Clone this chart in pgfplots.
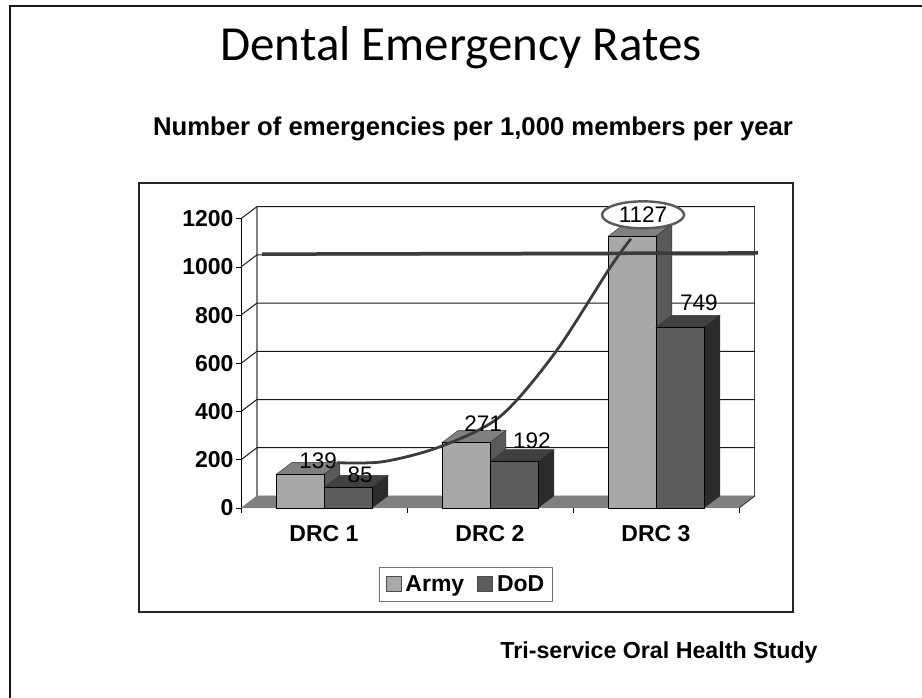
\documentclass[border=0pt]{standalone}
\usepackage{pgfplots}
\pgfplotsset{compat=1.18}
\usepackage{fontspec}
\setmainfont{Liberation Sans}
\newfontfamily\titlefont{Carlito}
\definecolor{armyfront}{gray}{0.66}
\definecolor{armytop}{gray}{0.5}
\definecolor{armyside}{gray}{0.35}
\definecolor{dodfront}{gray}{0.36}
\definecolor{dodtop}{gray}{0.25}
\definecolor{dodside}{gray}{0.17}
\definecolor{marker}{gray}{0.23}
\begin{document}
\begin{tikzpicture}[x=1pt,y=1pt]
\useasboundingbox (0,0) rectangle (922,698);
% slide edge (left and top only) and chart frame
\draw[line width=1.8pt, black!90] (10,0) -- (10,692) -- (922,692);
\draw[line width=1.5pt, black!85] (139,86) rectangle (793,515);
\node[font=\titlefont\fontsize{49}{56}\selectfont] at (461,650) {Dental Emergency Rates};
\node[font=\bfseries\fontsize{25.7}{30}\selectfont] at (473,569) {Number of emergencies per 1,000 members per year};
\node[font=\bfseries\fontsize{23.2}{27}\selectfont] at (659,45) {Tri-service Oral Health Study};
\begin{axis}[
  at={(241pt,190pt)}, anchor=south west,
  scale only axis, width=498pt, height=289.3pt,
  xmin=-0.5, xmax=2.5, ymin=0, ymax=1200,
  clip=false,
  axis x line=bottom, axis y line=left,
  axis line style={-, line width=1pt},
  xtick={-0.5,0.5,1.5,2.5},
  x tick label as interval,
  xticklabels={DRC 1,DRC 2,DRC 3},
  ytick={0,200,...,1200},
  tick align=outside,
  major tick length=5pt,
  tick style={black, line width=0.8pt},
  /pgf/number format/assume math mode=true,
  /pgf/number format/1000 sep={},
  ticklabel style={font=\bfseries\fontsize{23}{27}\selectfont},
  yticklabel style={xshift=1pt},
  xticklabel style={yshift=-9pt},
  legend style={at={(0.4518,-0.264)}, anchor=center, draw=gray!90!black,
    line width=0.8pt, legend columns=2, font=\bfseries\fontsize{23}{27}\selectfont,
    inner xsep=6pt, inner ysep=6pt, /tikz/every even column/.style={column sep=11pt}},
  legend image code/.code={\draw[#1, line width=0.7pt, draw=gray!60!black] (0pt,-7pt) rectangle (15pt,8pt); \path (17pt,0pt);},
]
% floor
\addplot[forget plot, fill=armytop, draw=armytop] coordinates {(-0.5,0)(-0.404,50)(2.596,50)(2.5,0)} -- cycle;
% back wall
\addplot[forget plot, gray, line width=1.2pt] coordinates {(-0.404,50)(-0.404,1250)};
\addplot[forget plot, black!75, line width=1pt] coordinates {(2.596,50)(2.596,1250)};
\addplot[forget plot, black!75, line width=1pt] coordinates {(2.5,0)(2.596,50)};
\addplot[forget plot, black!90, line width=1pt] coordinates {(-0.5,200)(-0.404,250)(2.596,250)};
\addplot[forget plot, black!90, line width=1pt] coordinates {(-0.5,400)(-0.404,450)(2.596,450)};
\addplot[forget plot, black!90, line width=1pt] coordinates {(-0.5,600)(-0.404,650)(2.596,650)};
\addplot[forget plot, black!90, line width=1pt] coordinates {(-0.5,800)(-0.404,850)(2.596,850)};
\addplot[forget plot, black!90, line width=1pt] coordinates {(-0.5,1000)(-0.404,1050)(2.596,1050)};
\addplot[forget plot, black!90, line width=1pt] coordinates {(-0.5,1200)(-0.404,1250)(2.596,1250)};
% Army: top and side faces, then the bars
\addplot[forget plot, fill=armytop, draw=black!80] coordinates {(-0.289,139)(0,139)(0.096,189)(-0.193,189)} -- cycle;
\addplot[forget plot, fill=armyside, draw=black!80] coordinates {(0,0)(0.096,50)(0.096,189)(0,139)} -- cycle;
\addplot[forget plot, fill=armytop, draw=black!80] coordinates {(0.711,271)(1,271)(1.096,321)(0.807,321)} -- cycle;
\addplot[forget plot, fill=armyside, draw=black!80] coordinates {(1,0)(1.096,50)(1.096,321)(1,271)} -- cycle;
\addplot[forget plot, fill=armytop, draw=black!80] coordinates {(1.711,1127)(2,1127)(2.096,1177)(1.807,1177)} -- cycle;
\addplot[forget plot, fill=armyside, draw=black!80] coordinates {(2,0)(2.096,50)(2.096,1177)(2,1127)} -- cycle;
\addplot[ybar, bar width=48pt, bar shift=-24pt, fill=armyfront, draw=black, line width=0.8pt]
  coordinates {(0,139)(1,271)(2,1127)};
\addlegendentry{Army}
% DoD
\addplot[forget plot, fill=dodtop, draw=black!80] coordinates {(0,85)(0.289,85)(0.385,135)(0.096,135)} -- cycle;
\addplot[forget plot, fill=dodside, draw=black!80] coordinates {(0.289,0)(0.385,50)(0.385,135)(0.289,85)} -- cycle;
\addplot[forget plot, fill=dodtop, draw=black!80] coordinates {(1,192)(1.289,192)(1.385,242)(1.096,242)} -- cycle;
\addplot[forget plot, fill=dodside, draw=black!80] coordinates {(1.289,0)(1.385,50)(1.385,242)(1.289,192)} -- cycle;
\addplot[forget plot, fill=dodtop, draw=black!80] coordinates {(2,749)(2.289,749)(2.385,799)(2.096,799)} -- cycle;
\addplot[forget plot, fill=dodside, draw=black!80] coordinates {(2.289,0)(2.385,50)(2.385,799)(2.289,749)} -- cycle;
\addplot[ybar, bar width=48pt, bar shift=24pt, fill=dodfront, draw=black, line width=0.8pt]
  coordinates {(0,85)(1,192)(2,749)};
\addlegendentry{DoD}
% hand-drawn threshold line and trend curve
\addplot[forget plot, marker, line width=3.5pt] coordinates {(-0.373,1053)(2.614,1058)};
\addplot[forget plot, marker, line width=2.8pt, smooth] coordinates {(0.078,188)(0.355,192)(0.699,254)(1.060,379)(1.392,644)(1.723,997)(1.849,1117)};
\draw[draw=gray!70!black, line width=2.4pt, fill=white] (axis cs:1.922,1216) ellipse [x radius=41pt, y radius=13.5pt];
% value labels
\node[font=\fontsize{22.5}{26}\selectfont] at (axis cs:-0.036,196) {139};
\node[font=\fontsize{22.5}{26}\selectfont] at (axis cs:0.217,138) {85};
\node[font=\fontsize{22.5}{26}\selectfont] at (axis cs:0.958,350) {271};
\node[font=\fontsize{22.5}{26}\selectfont] at (axis cs:1.253,279) {192};
\node[font=\fontsize{22.5}{26}\selectfont] at (axis cs:1.922,1216) {1127};
\node[font=\fontsize{22.5}{26}\selectfont] at (axis cs:2.259,851) {749};
\end{axis}
\end{tikzpicture}
\end{document}
